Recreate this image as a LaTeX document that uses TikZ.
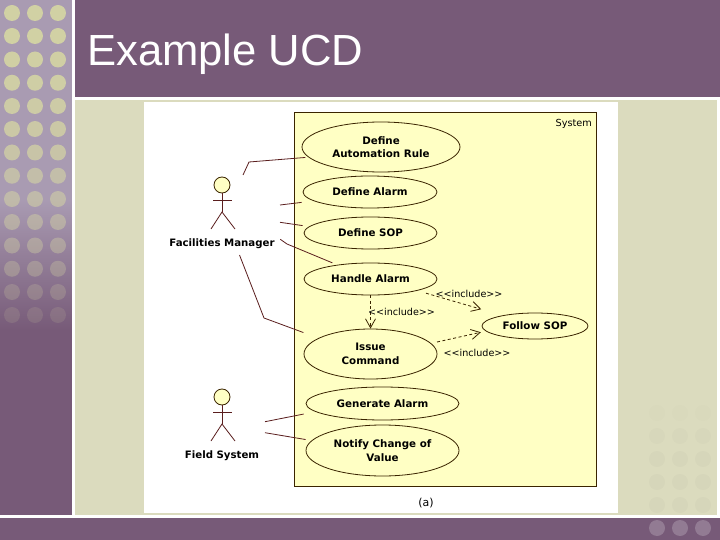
\documentclass[tikz,border=0pt]{standalone}
\usepackage{fontspec}
\setmainfont{DejaVu Sans}
\newfontfamily\titlefont{Liberation Sans}
\usetikzlibrary{shapes.geometric,arrows.meta}
\definecolor{pur}{HTML}{775A78}
\definecolor{purlight}{HTML}{A99BB2}
\definecolor{beige}{HTML}{DBDBBE}
\definecolor{dotcol}{HTML}{D4D4A4}
\definecolor{sysfill}{HTML}{FFFFC4}
\definecolor{edgecol}{HTML}{3A2400}
\definecolor{linkcol}{HTML}{5A1E1E}
\tikzset{
  usecase/.style={draw=edgecol,line width=0.8pt,fill=sysfill,ellipse,inner sep=0pt,align=center,font=\fontsize{10.3}{13.5}\selectfont\bfseries},
  assoc/.style={draw=linkcol,line width=0.8pt},
  incl/.style={draw=edgecol,line width=0.8pt,dashed,dash pattern=on 3pt off 2.5pt,-{Straight Barb[length=9pt,width=10pt]}},
  stereo/.style={font=\fontsize{9.6}{11}\selectfont,inner sep=0pt},
  actorlabel/.style={font=\fontsize{10.2}{12}\selectfont\bfseries,inner sep=0pt},
  actorhead/.style={circle,draw=edgecol,fill=sysfill,line width=0.8pt,minimum size=16pt,inner sep=0pt},
  limb/.style={draw=linkcol,line width=0.8pt},
}
\begin{document}
\begin{tikzpicture}[x=1pt,y=-1pt]
\useasboundingbox (0,0) rectangle (720,540);
% slide background
\fill[white] (0,0) rectangle (720,540);
\fill[purlight] (0,0) rectangle (71.5,200);
\shade[top color=purlight,bottom color=pur] (0,200) rectangle (71.5,330);
\fill[pur] (0,330) rectangle (71.5,515);
\fill[pur] (74.5,0) rectangle (720,96.8);
\fill[beige] (75,100) rectangle (717,514.5);
\fill[pur] (0,518) rectangle (720,540);
\foreach \yy/\op in {13/.95,36/.95,59.5/.93,82.75/.9,106/.85,129/.8,152.5/.72,175.75/.62,199/.55,222/.45,245.5/.38,268.75/.3,292/.22,315/.14}
  \foreach \xx in {12,35,58}
    \fill[dotcol,opacity=\op] (\xx,\yy) circle[radius=8];
\foreach \yy/\op in {413/.04,436/.08,459/.1,482/.1,505/.1}
  \foreach \xx in {657,680,703}
    \fill[black!20!beige,opacity=\op] (\xx,\yy) circle[radius=8];
\foreach \xx in {657,680,703}
  \fill[white!20!pur] (\xx,528) circle[radius=8];
\node[anchor=base west,inner sep=0pt,text=white,font=\titlefont\fontsize{43.6}{50}\selectfont] (title) at (87,66) {Example UCD};
% picture panel
\fill[white] (144,101.7) rectangle (618,513);
\node[draw=edgecol,line width=0.8pt,fill=sysfill,minimum width=302.5pt,minimum height=374.5pt,inner sep=0pt] (system) at (445.5,299.5) {};
\node[anchor=east,inner sep=0pt,font=\fontsize{9.7}{11}\selectfont] (systemlabel) at (592,124) {System};
% use cases
\node[usecase,minimum width=158pt,minimum height=50pt] (rule) at (381,147) {Define\\Automation Rule};
\node[usecase,minimum width=134pt,minimum height=32pt] (alarm) at (370,192) {Define Alarm};
\node[usecase,minimum width=133pt,minimum height=32pt] (sop) at (370.5,233) {Define SOP};
\node[usecase,minimum width=133pt,minimum height=32pt] (handle) at (370.5,279) {Handle Alarm};
\node[usecase,minimum width=133pt,minimum height=50pt] (issue) at (370.5,354) {Issue\\Command};
\node[usecase,minimum width=106pt,minimum height=26pt] (follow) at (535,326) {Follow SOP};
\node[usecase,minimum width=153pt,minimum height=33pt] (generate) at (382.5,403.5) {Generate Alarm};
\node[usecase,minimum width=153pt,minimum height=51pt] (notify) at (382.5,450.5) {Notify Change of\\Value};
% actors
\node[actorhead] (head1) at (222,185) {};
\draw[limb] (head1.south) -- (222,212) coordinate (hip1);
\draw[limb] (213,200) -- (232,200);
\draw[limb] (211,229) -- (hip1) -- (235,229);
\node[actorlabel] (manager) at (222,243.5) {Facilities Manager};
\node[actorhead] (head2) at (222,397) {};
\draw[limb] (head2.south) -- (222,424) coordinate (hip2);
\draw[limb] (213,412) -- (232,412);
\draw[limb] (211,441) -- (hip2) -- (235,441);
\node[actorlabel] (field) at (222,455.5) {Field System};
% associations
\coordinate (m1) at (243,175);
\coordinate (m1b) at (249,162);
\coordinate (m2) at (280,205);
\coordinate (m3) at (280,222.3);
\coordinate (m4) at (280.3,239.3);
\coordinate (m4b) at (287,244);
\coordinate (m5) at (239.5,255);
\coordinate (m5b) at (264,318);
\coordinate (f1) at (265,421.7);
\coordinate (f2) at (265,432.7);
\draw[assoc,shorten >=3pt] (m1) -- (m1b) -- (rule.188);
\draw[assoc,shorten >=12pt] (m2) -- (alarm.189);
\draw[assoc,shorten >=6.5pt] (m3) -- (sop.174);
\draw[assoc,shorten >=5pt] (m4) -- (m4b) -- (handle.157);
\draw[assoc,shorten >=16pt] (m5) -- (m5b) -- (issue.163);
\draw[assoc,shorten >=12pt] (f1) -- (generate.187.5);
\draw[assoc,shorten >=6pt] (f2) -- (notify.172);
% includes
\draw[incl] (handle.south) -- (issue.north);
\draw[incl,shorten <=9pt,shorten >=22pt] (handle.346) -- (follow.162);
\draw[incl,shorten <=6pt,shorten >=5pt] (issue.10.5) -- (follow.186);
\node[stereo] (inc1) at (401.5,312) {<{}<include>{}>};
\node[stereo] (inc2) at (469,294) {<{}<include>{}>};
\node[stereo] (inc3) at (477,353) {<{}<include>{}>};
\node[inner sep=0pt,font=\fontsize{11}{13}\selectfont] (caption) at (426,503) {(a)};
\end{tikzpicture}
\end{document}
